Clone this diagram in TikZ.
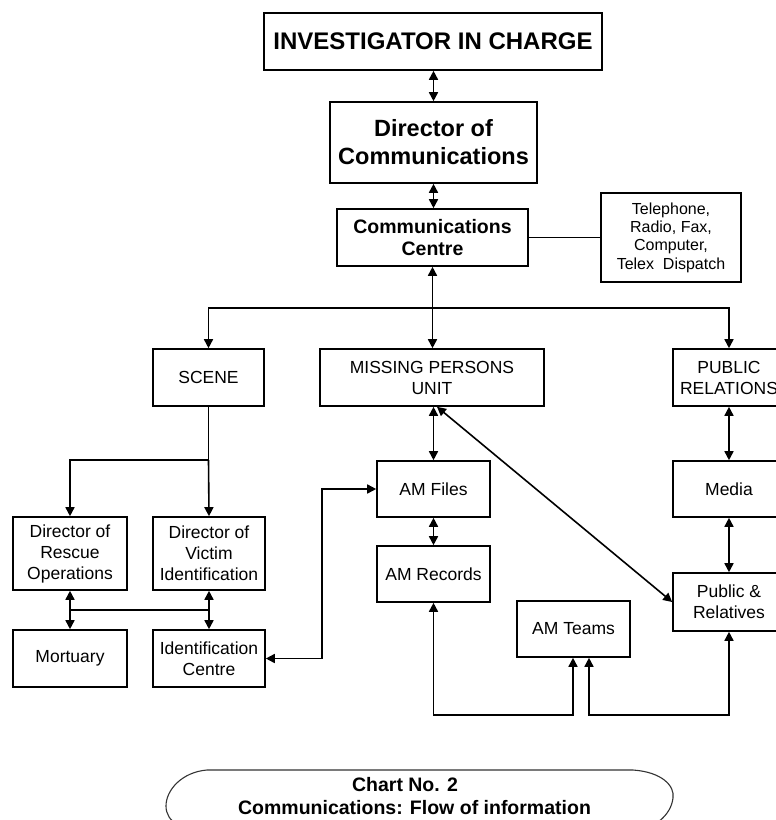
\documentclass[tikz,border=0pt]{standalone}
\usepackage{fontspec}
\setmainfont{Liberation Sans}
\usetikzlibrary{arrows.meta}
\begin{document}
\begin{tikzpicture}[x=1pt,y=-1pt,
  line width=1.6pt,
  >={Triangle[length=9pt,width=9pt]},
  box/.style={draw,rectangle,inner sep=0pt,align=center,
    font=\fontsize{17.5}{21}\selectfont},
  bbox/.style={box,font=\bfseries\fontsize{19.5}{22.5}\selectfont}]
\useasboundingbox (0,0) rectangle (776,820);

% top chain
\node[box,minimum width=338pt,minimum height=57pt,font=\bfseries\fontsize{24}{28}\selectfont] (title) at (433,41.5) {INVESTIGATOR IN CHARGE};
\node[box,minimum width=207pt,minimum height=81pt,font=\bfseries\fontsize{23.5}{28}\selectfont] (dircom) at (433.5,142.5) {Director of\\Communications};
\node[bbox,minimum width=191pt,minimum height=57pt] (cc) at (432.5,237.5) {Communications\\Centre};
\node[box,minimum width=140pt,minimum height=89pt,font=\fontsize{16}{18.3}\selectfont] (tel) at (671,237.5) {Telephone,\\Radio, Fax,\\Computer,\\Telex\ \ Dispatch};

% second row
\node[box,minimum width=111pt,minimum height=57pt] (scene) at (208.5,377.5) {SCENE};
\node[box,minimum width=224pt,minimum height=57pt] (mpu) at (432,377.5) {MISSING PERSONS\\UNIT};
\node[box,minimum width=112pt,minimum height=57pt] (pr) at (729,377.5) {PUBLIC\\RELATIONS};

% left branch
\node[box,minimum width=114pt,minimum height=73pt] (dro) at (70,553.5) {Director of\\Rescue\\Operations};
\node[box,minimum width=112pt,minimum height=73pt] (dvi) at (209,553.5) {Director of\\Victim\\Identification};
\node[box,minimum width=114pt,minimum height=57pt] (mort) at (70,658.5) {Mortuary};
\node[box,minimum width=112pt,minimum height=57pt] (idc) at (209,658.5) {Identification\\Centre};

% middle
\node[box,minimum width=113pt,minimum height=56pt] (amf) at (433.5,489) {AM Files};
\node[box,minimum width=113pt,minimum height=56pt] (amr) at (433.5,574) {AM Records};
\node[box,minimum width=113pt,minimum height=56pt] (amt) at (573.5,629) {AM Teams};

% right
\node[box,minimum width=112pt,minimum height=56pt] (media) at (729,489) {Media};
\node[box,minimum width=112pt,minimum height=58pt] (prl) at (729,602) {Public \&\\Relatives};

% connectors
\draw[<->] (dircom.north |- title.south) -- (dircom.north);
\draw[<->] (dircom.south) -- (dircom.south |- cc.north);
\draw (cc.east) -- (tel.west);
\draw[<->] (cc.south) -- (cc.south |- mpu.north);
\coordinate (j1) at (432.5,308);
\draw[->] (j1) -| (scene.north);
\draw[->] (j1) -| (pr.north);

\coordinate (j2) at (208.5,460);
\draw (scene.south) -- (j2);
\draw[->] (j2) -| (dro.north);
\draw[->] (j2) -- (dvi.north);

\draw[<->] (dro.south) -- (mort.north);
\draw[<->] (dvi.south) -- (idc.north);
\coordinate (j3) at (70,610);
\coordinate (j4) at (209,610);
\draw (j3) -- (j4);

\draw[<->] (idc.east) -- ++(56,0) |- (amf.west);

\draw[<->] (amf.north |- mpu.south) -- (amf.north);
\draw[<->] (amf.south) -- (amr.north);
\draw[<->] ([xshift=5pt]mpu.south) -- (prl.west);

\draw[<->] (media.north |- pr.south) -- (media.north);
\draw[<->] (media.south) -- (prl.north);

\draw[<->] (amr.south) -- ++(0,112) -| ([xshift=-0.5pt]amt.south);
\draw[<->] (prl.south) -- ++(0,83) -| ([xshift=15.5pt]amt.south);

% caption
\draw[line width=1.1pt,black!80] (207,770) -- (633,770)
  .. controls (662,772) and (675,786) .. (673,798)
  .. controls (671,815) and (655,830) .. (625,834)
  -- (215,834)
  .. controls (182,832) and (166,822) .. (166,806)
  .. controls (166,790) and (182,772) .. (207,770);
\node[font=\bfseries\fontsize{19.5}{22}\selectfont,inner sep=0pt] (cap1) at (405,785) {Chart No. 2};
\node[font=\bfseries\fontsize{19.5}{22}\selectfont,inner sep=0pt] (cap2) at (414.5,808) {Communications: Flow of information};
\end{tikzpicture}
\end{document}
